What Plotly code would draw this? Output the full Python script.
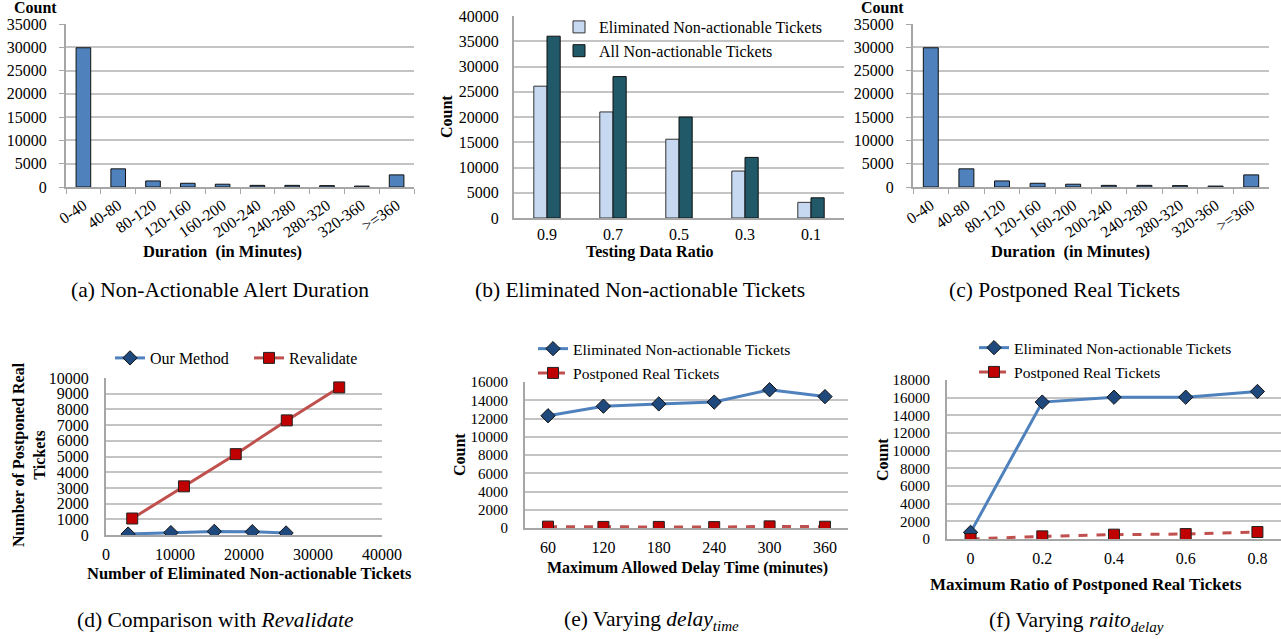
import plotly.graph_objects as go

W, H = 1281, 639
FONT = "Liberation Serif"

# ---------------- data ----------------
dur_cats = ["0-40", "40-80", "80-120", "120-160", "160-200", "200-240",
            "240-280", "280-320", "320-360", ">=360"]
alert_dur_counts = [29900, 3900, 1300, 800, 600, 350, 350, 300, 200, 2600]
postponed_dur_counts = [29900, 3900, 1300, 800, 600, 350, 350, 300, 200, 2600]

ratio_cats = ["0.9", "0.7", "0.5", "0.3", "0.1"]
eliminated_counts = [26100, 21000, 15600, 9300, 3100]
all_nonact_counts = [36000, 28000, 20000, 12000, 4000]

our_x = [3200, 9400, 15700, 21200, 26100]
our_y = [60, 150, 230, 210, 130]
reval_x = [3800, 11300, 18800, 26200, 33800]
reval_y = [1050, 3100, 5150, 7300, 9400]

delay_cats = ["60", "120", "180", "240", "300", "360"]
delay_elim = [12300, 13350, 13600, 13800, 15150, 14400]
delay_post = [150, 120, 120, 100, 180, 140]

rdelay_cats = ["0", "0.2", "0.4", "0.6", "0.8"]
rdelay_elim = [750, 15500, 16050, 16050, 16700]
rdelay_post = [0, 300, 490, 560, 790]

# ---------------- helpers ----------------
def px_x(p):
    return p / W

def px_y(p):
    return 1 - p / H

BLUE = "#4F81BD"
NAVY = "#1F497D"
RED_LINE = "#C0504D"
RED_MK = "#C00000"
GRID = "#C4C4C4"
AXIS = "#A6A6A6"

fig = go.Figure()

# (a)
fig.add_trace(go.Bar(x=dur_cats, y=alert_dur_counts, xaxis="x", yaxis="y",
                     marker=dict(color=BLUE, line=dict(color="#111111", width=1)),
                     width=0.42, showlegend=False))
# (c)
fig.add_trace(go.Bar(x=dur_cats, y=postponed_dur_counts, xaxis="x3", yaxis="y3",
                     marker=dict(color=BLUE, line=dict(color="#111111", width=1)),
                     width=0.42, showlegend=False))
# (b)
fig.add_trace(go.Bar(x=ratio_cats, y=eliminated_counts, xaxis="x2", yaxis="y2",
                     name="Eliminated Non-actionable Tickets",
                     marker=dict(color="#C6D9F1", line=dict(color="#333333", width=1)),
                     width=0.2, offset=-0.2, legend="legend"))
fig.add_trace(go.Bar(x=ratio_cats, y=all_nonact_counts, xaxis="x2", yaxis="y2",
                     name="All Non-actionable Tickets",
                     marker=dict(color="#215968", line=dict(color="#111111", width=1)),
                     width=0.2, offset=0.0, legend="legend"))
# (d)
fig.add_trace(go.Scatter(x=our_x, y=our_y, xaxis="x4", yaxis="y4", name="Our Method",
                         mode="lines+markers", line=dict(color=BLUE, width=3),
                         marker=dict(symbol="diamond", size=11, color=NAVY,
                                     line=dict(color="#111111", width=1)),
                         legend="legend2"))
fig.add_trace(go.Scatter(x=reval_x, y=reval_y, xaxis="x4", yaxis="y4", name="Revalidate",
                         mode="lines+markers", line=dict(color=RED_LINE, width=3),
                         marker=dict(symbol="square", size=11, color=RED_MK,
                                     line=dict(color="#222222", width=1)),
                         legend="legend2"))
# (e)
fig.add_trace(go.Scatter(x=delay_cats, y=delay_elim, xaxis="x5", yaxis="y5",
                         name="Eliminated Non-actionable Tickets",
                         mode="lines+markers", line=dict(color=BLUE, width=3),
                         marker=dict(symbol="diamond", size=11, color=NAVY,
                                     line=dict(color="#111111", width=1)),
                         legend="legend3", legendgroup="e1"))
fig.add_trace(go.Scatter(x=delay_cats, y=delay_post, xaxis="x5", yaxis="y5",
                         name="Postponed Real Tickets",
                         mode="lines+markers", line=dict(color=RED_LINE, width=3, dash="dash"),
                         marker=dict(symbol="square", size=11, color=RED_MK,
                                     line=dict(color="#222222", width=1)),
                         legend="legend3", legendgroup="e2"))
# (f)
fig.add_trace(go.Scatter(x=rdelay_cats, y=rdelay_elim, xaxis="x6", yaxis="y6",
                         name="Eliminated Non-actionable Tickets",
                         mode="lines+markers", line=dict(color=BLUE, width=3),
                         marker=dict(symbol="diamond", size=11, color=NAVY,
                                     line=dict(color="#111111", width=1)),
                         legend="legend4", legendgroup="f1"))
fig.add_trace(go.Scatter(x=rdelay_cats, y=rdelay_post, xaxis="x6", yaxis="y6",
                         name="Postponed Real Tickets",
                         mode="lines+markers", line=dict(color=RED_LINE, width=3, dash="dash"),
                         marker=dict(symbol="square", size=11, color=RED_MK,
                                     line=dict(color="#222222", width=1)),
                         legend="legend4", legendgroup="f2"))


def yax(dom, rng, dtick, anchor, standoff, size=16, ticks=""):
    return dict(domain=dom, range=rng, dtick=dtick, anchor=anchor, tickformat="d",
                showgrid=True, gridcolor=GRID, gridwidth=1.5, zeroline=False,
                showline=True, linecolor=AXIS, linewidth=2,
                ticks=ticks, ticklen=5, tickcolor=AXIS,
                tickfont=dict(family=FONT, size=size, color="#000"),
                ticklabelstandoff=standoff, fixedrange=True)

def xcat(dom, anchor, size=16, boundaries=False, angle=0, standoff=6):
    d = dict(domain=dom, anchor=anchor, type="category",
             showgrid=False, zeroline=False, showline=True, linecolor=AXIS, linewidth=2,
             tickfont=dict(family=FONT, size=size, color="#000"),
             tickangle=angle, ticklabelstandoff=standoff, fixedrange=True)
    if boundaries:
        d.update(tickson="boundaries", ticks="outside", ticklen=5, tickcolor=AXIS)
    else:
        d.update(ticks="")
    return d

layout = dict(
    width=W, height=H, margin=dict(l=0, r=0, t=0, b=0, autoexpand=False),
    paper_bgcolor="white", plot_bgcolor="white",
    font=dict(family=FONT, color="#000"),
    barmode="overlay",
    xaxis=xcat([px_x(66), px_x(414)], "y", size=16, boundaries=True, angle=-35, standoff=1),
    yaxis=yax([px_y(187), px_y(24)], [0, 35000], 5000, "x", 9, ticks="outside"),
    xaxis2=xcat([px_x(514), px_x(844)], "y2", size=16, standoff=1),
    yaxis2=yax([px_y(218), px_y(16)], [0, 40000], 5000, "x2", 10),
    xaxis3=xcat([px_x(913), px_x(1269)], "y3", size=16, boundaries=True, angle=-35, standoff=1),
    yaxis3=yax([px_y(187), px_y(24)], [0, 35000], 5000, "x3", 9, ticks="outside"),
    xaxis4=dict(domain=[px_x(106), px_x(382)], anchor="y4", range=[0, 40000], dtick=10000,
                tickformat="d",
                showgrid=False, zeroline=False, showline=True, linecolor=AXIS, linewidth=2,
                ticks="", tickfont=dict(family=FONT, size=16, color="#000"),
                ticklabelstandoff=4, fixedrange=True),
    yaxis4=yax([px_y(535), px_y(378)], [0, 10000], 1000, "x4", 12, size=16),
    xaxis5=xcat([px_x(525), px_x(848)], "y5", size=16, standoff=4),
    yaxis5=yax([px_y(528), px_y(382)], [0, 16000], 2000, "x5", 12, size=15),
    xaxis6=xcat([px_x(947), px_x(1281)], "y6", size=16, standoff=4),
    yaxis6=yax([px_y(539), px_y(380)], [0, 18000], 2000, "x6", 12, size=15),
    legend=dict(x=px_x(559), y=px_y(10), xanchor="left", yanchor="top",
                bgcolor="rgba(0,0,0,0)", font=dict(family=FONT, size=16),
                orientation="v", itemwidth=30, tracegroupgap=0),
    legend2=dict(x=px_x(110), y=px_y(341), xanchor="left", yanchor="top",
                 bgcolor="rgba(0,0,0,0)", font=dict(family=FONT, size=16),
                 orientation="h", itemwidth=30, entrywidth=94, entrywidthmode="pixels"),
    legend3=dict(x=px_x(533), y=px_y(332), xanchor="left", yanchor="top",
                 bgcolor="rgba(0,0,0,0)", font=dict(family=FONT, size=15.6),
                 orientation="v", itemwidth=30, tracegroupgap=1),
    legend4=dict(x=px_x(974), y=px_y(331), xanchor="left", yanchor="top",
                 bgcolor="rgba(0,0,0,0)", font=dict(family=FONT, size=15.6),
                 orientation="v", itemwidth=30, tracegroupgap=1),
)

ann = []
def text(x, y, s, size=15, bold=False, angle=0):
    ann.append(dict(x=px_x(x), y=px_y(y), xref="paper", yref="paper",
                    text=("<b>%s</b>" % s) if bold else s, showarrow=False,
                    xanchor="center", yanchor="middle", textangle=angle,
                    font=dict(family=FONT, size=size, color="#000")))

T = 16.5
# axis titles
text(35, 8, "Count", 16, True)
text(882, 8, "Count", 16, True)
text(222, 252, "Duration\u00a0\u00a0(in Minutes)", T, True)
text(1070, 252, "Duration\u00a0\u00a0(in Minutes)", T, True)
text(649, 252, "Testing Data Ratio", 16, True)
text(447, 117, "Count", 16, True, -90)
text(29, 455, "Number of Postponed Real<br>Tickets", 16, True, -90)
text(249, 573, "Number of Eliminated Non-actionable Tickets", T, True)
text(460, 455, "Count", 16, True, -90)
text(687, 568, "Maximum Allowed Delay Time (minutes)", 16, True)
text(883, 460, "Count", 16, True, -90)
text(1086, 584, "Maximum Ratio of Postponed Real Tickets", 17, True)

# captions
C = 21.5
text(220, 290, "(a) Non-Actionable Alert Duration", C)
text(640, 290, "(b) Eliminated Non-actionable Tickets", C)
text(1064, 290, "(c) Postponed Real Tickets", C)
text(215, 620, "(d) Comparison with <i>Revalidate</i>", C)
text(651, 620, "(e) Varying <i>delay</i><sub><i>time</i></sub>", C)
text(1076, 621, "(f) Varying <i>raito</i><sub><i>delay</i></sub>", C)

layout["annotations"] = ann
fig.update_layout(**layout)
fig.write_html("out.html", config={"displayModeBar": False},
               post_script="document.body.style.margin='0';document.body.style.padding='0';")
